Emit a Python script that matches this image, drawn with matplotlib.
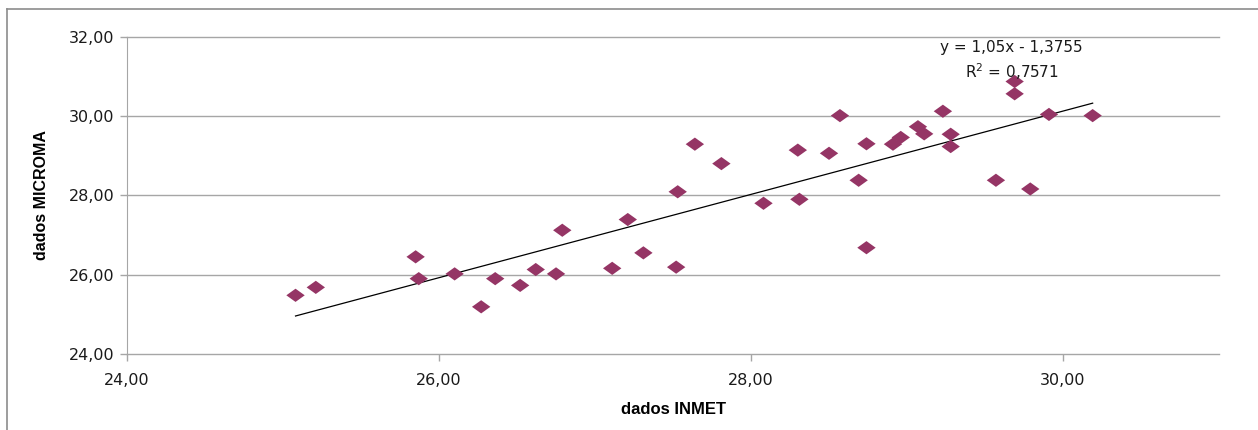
import numpy as np
import matplotlib
matplotlib.use("Agg")
import matplotlib.pyplot as plt
from matplotlib.lines import Line2D
from matplotlib.ticker import FuncFormatter

''' dados lidos do grafico '''
inmet = [25.08, 25.21, 25.85, 25.87, 26.10, 26.27, 26.36, 26.52, 26.62, 26.75,
         26.79, 27.11, 27.21, 27.31, 27.52, 27.53, 27.64, 27.81, 28.08, 28.30,
         28.31, 28.50, 28.57, 28.69, 28.74, 28.74, 28.91, 28.96, 29.07, 29.11,
         29.23, 29.28, 29.28, 29.57, 29.69, 29.69, 29.79, 29.91, 30.19]
microma = [25.48, 25.68, 26.45, 25.90, 26.02, 25.19, 25.90, 25.73, 26.13, 26.02,
           27.12, 26.16, 27.39, 26.55, 26.19, 28.09, 29.29, 28.80, 27.80, 29.14,
           27.90, 29.06, 30.01, 28.38, 29.30, 26.68, 29.29, 29.46, 29.73, 29.55,
           30.12, 29.54, 29.23, 28.38, 30.87, 30.56, 28.16, 30.04, 30.01]
slope = 1.05
intercept = -1.3755
r2 = 0.7571

x_ticks = [24, 26, 28, 30]
y_ticks = [24, 26, 28, 30, 32]

fig = plt.figure(figsize=(12.58, 4.30), dpi=100)
ax = fig.add_axes([0.101, 0.1767, 0.868, 0.738])

# grid horizontal
for yv in y_ticks:
    ax.axhline(yv, color='#a6a6a6', lw=1.0, zorder=1, clip_on=False)

# linha de tendencia
xt = np.array([min(inmet), max(inmet)])
ax.plot(xt, slope * xt + intercept, color='black', lw=0.9, zorder=2)

# marcador losango
diamond = [(-1, 0), (0, 0.72), (1, 0), (0, -0.72), (-1, 0)]
ax.scatter(inmet, microma, marker=diamond, s=175, color='#953565',
           edgecolors='none', zorder=3)

ax.set_xlim(24, 31)
ax.set_ylim(24, 32)
ax.set_xticks(x_ticks)
ax.set_yticks(y_ticks)
fmt = FuncFormatter(lambda v, p: ('%.2f' % v).replace('.', ','))
ax.xaxis.set_major_formatter(fmt)
ax.yaxis.set_major_formatter(fmt)

for s in ['top', 'right', 'bottom']:
    ax.spines[s].set_visible(False)
ax.spines['left'].set_color('#a6a6a6')
ax.tick_params(axis='both', color='#a6a6a6', length=5, width=1,
               labelsize=11.5, labelcolor='#1a1a1a')
ax.tick_params(axis='x', pad=9)
ax.tick_params(axis='y', pad=4)

lbl_font = ['Liberation Sans Narrow', 'Liberation Sans', 'DejaVu Sans']
ax.set_xlabel('dados INMET', fontsize=12, fontweight='bold',
              family=lbl_font, labelpad=10)
ax.set_ylabel('dados MICROMA', fontsize=11.5, fontweight='bold',
              family=lbl_font, labelpad=14)

ax.text(29.67, 31.72, 'y = 1,05x - 1,3755', ha='center', va='center',
        fontsize=11, color='#1a1a1a')
ax.text(29.67, 31.12, 'R$^2$ = ' + ('%.4f' % r2).replace('.', ','),
        ha='center', va='center', fontsize=11, color='#1a1a1a')

# moldura externa
fig.add_artist(Line2D([7 / 1258, 7 / 1258], [0, 1 - 9 / 430],
                      transform=fig.transFigure, color='#8c8c8c', lw=1.2))
fig.add_artist(Line2D([7 / 1258, 1], [1 - 9 / 430, 1 - 9 / 430],
                      transform=fig.transFigure, color='#8c8c8c', lw=1.2))

fig.savefig('out.png', dpi=100, facecolor='white')
